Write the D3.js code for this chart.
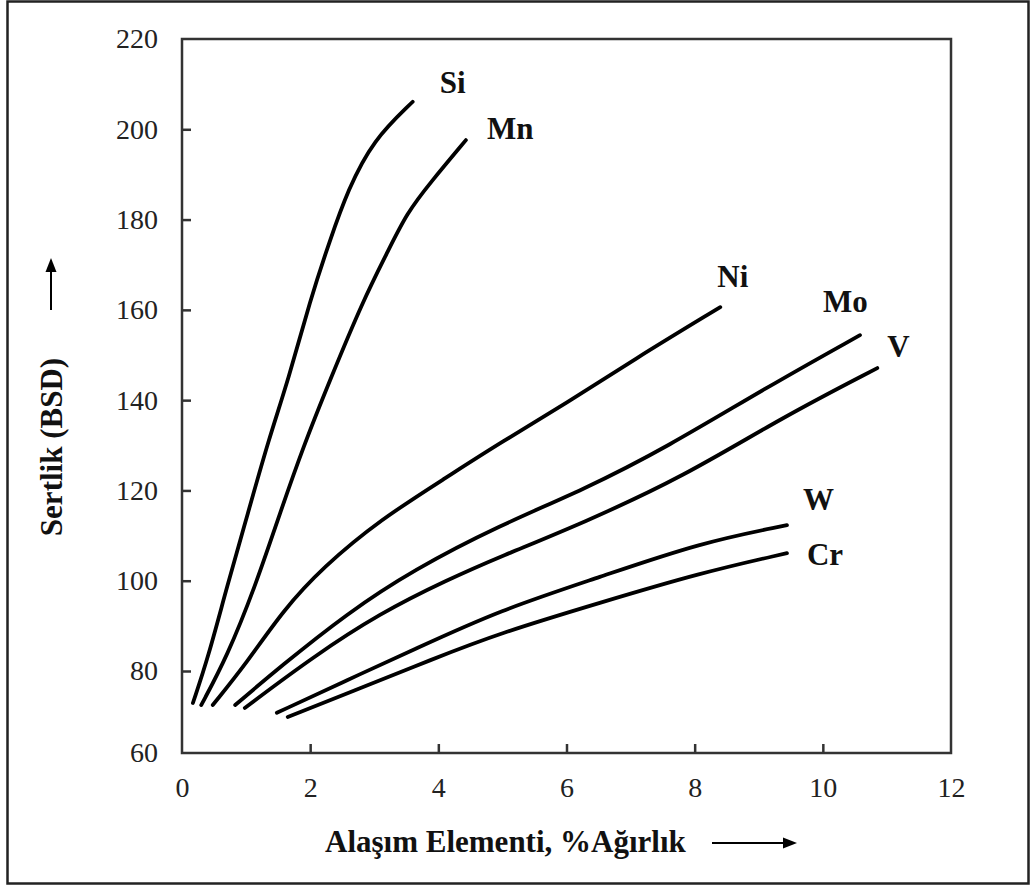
<!DOCTYPE html>
<html lang="tr">
<head>
<meta charset="UTF-8">
<title>Sertlik - Alaşım Elementi</title>
<style>
  body { margin: 0; background: #fff; }
  svg { display: block; }
  .tick text { font-family: "Liberation Serif", "DejaVu Serif", serif; font-size: 28px; fill: #222; }
  .tick line { stroke: #333; stroke-width: 2.5; }
  .lbl { font-family: "Liberation Serif", serif; font-weight: bold; font-size: 31px; fill: #111; }
  .title { font-family: "Liberation Serif", serif; font-weight: bold; font-size: 31px; fill: #111; }
</style>
</head>
<body>
<svg id="chart" width="1036" height="886"></svg>
<script src="https://d3js.org/d3.v7.min.js"></script>
<script>
// tick values
const xTicks = [0, 2, 4, 6, 8, 10, 12];
const yTicks = [60, 80, 100, 120, 140, 160, 180, 200, 220];

// curves: % alloying element vs hardness (BSD)
const siX = [0.17, 0.41, 0.70, 1.03, 1.35, 1.66, 2.00, 2.31, 2.59, 2.98, 3.60];
const siY = [72.2, 83.1, 98.6, 115.0, 131.2, 144.5, 162.2, 175.5, 186.6, 197.6, 206.1];
const mnX = [0.30, 0.70, 1.14, 1.53, 1.89, 2.31, 2.83, 3.20, 3.51, 3.87, 4.43];
const mnY = [71.7, 83.1, 98.6, 115.0, 129.6, 144.5, 162.2, 172.6, 181.5, 188.1, 197.6];
const niX = [0.48, 1.01, 1.58, 2.20, 3.09, 4.14, 4.96, 6.01, 7.04, 8.40];
const niY = [71.7, 81.8, 93.5, 103.0, 113.5, 123.0, 130.5, 139.4, 148.9, 160.6];
const moX = [0.83, 1.53, 2.58, 3.61, 4.96, 6.26, 7.57, 9.13, 10.58];
const moY = [71.7, 80.9, 92.8, 102.4, 112.3, 120.1, 129.6, 142.9, 154.4];
const vX = [0.98, 2.04, 3.09, 4.14, 4.96, 6.26, 7.82, 9.38, 10.85];
const vY = [71.0, 83.1, 92.8, 100.2, 105.3, 112.8, 123.0, 136.3, 147.1];
const wX = [1.48, 2.58, 3.61, 4.96, 6.52, 8.08, 9.44];
const wY = [69.8, 77.8, 84.7, 93.5, 100.8, 108.4, 112.3];
const crX = [1.65, 2.83, 3.87, 4.96, 6.52, 8.08, 9.44];
const crY = [68.8, 76.1, 82.4, 88.4, 95.1, 101.7, 106.1];

const names = ["Si", "Mn", "Ni", "Mo", "V", "W", "Cr"];
const xs = [siX, mnX, niX, moX, vX, wX, crX];
const ys = [siY, mnY, niY, moY, vY, wY, crY];
// label offsets from the end of each curve (px)
const labelDx = [27, 21, -3, -37, 10, 16, 20];
const labelDy = [-9, -1, -20, -23, -11, -15, 12];

const svg = d3.select("#chart");

const pLeft = 182, pRight = 951, pTop = 39, pBottom = 753;

const x = d3.scaleLinear().domain([0, 12]).range([pLeft, pRight]);
// the original axis is a bit squeezed between 60 and 80
const y = d3.scaleLinear().domain([60, 80, 220]).range([pBottom, 671, pTop]);

// outer border
svg.append("rect")
    .attr("x", 7.5).attr("y", 1.5)
    .attr("width", 1021).attr("height", 882)
    .attr("fill", "none")
    .attr("stroke", "#222")
    .attr("stroke-width", 2.5);

// axes (ticks inward)
const gx = svg.append("g")
    .attr("transform", `translate(0,${pBottom})`)
    .call(d3.axisBottom(x).tickValues(xTicks).tickSize(-9).tickPadding(24).tickFormat(d3.format("d")));
gx.select(".domain").remove();
gx.selectAll(".tick").filter(d => d === 0 || d === 12).select("line").remove();

const gy = svg.append("g")
    .attr("transform", `translate(${pLeft},0)`)
    .call(d3.axisLeft(y).tickValues(yTicks).tickSize(-9).tickPadding(24).tickFormat(d3.format("d")));
gy.select(".domain").remove();
gy.selectAll(".tick").filter(d => d === 60 || d === 220).select("line").remove();

// plot frame
svg.append("rect")
    .attr("x", pLeft).attr("y", pTop)
    .attr("width", pRight - pLeft).attr("height", pBottom - pTop)
    .attr("fill", "none")
    .attr("stroke", "#333")
    .attr("stroke-width", 2.5);

// curves
const line = d3.line()
    .x(d => x(d[0]))
    .y(d => y(d[1]))
    .curve(d3.curveBasis);

names.forEach((n, i) => {
    const pts = xs[i].map((v, j) => [v, ys[i][j]]);
    svg.append("path")
        .datum(pts)
        .attr("d", line)
        .attr("fill", "none")
        .attr("stroke", "#000")
        .attr("stroke-width", 3.8)
        .attr("stroke-linecap", "round")
        .attr("stroke-linejoin", "round");

    const last = pts[pts.length - 1];
    svg.append("text")
        .attr("class", "lbl")
        .attr("x", x(last[0]) + labelDx[i])
        .attr("y", y(last[1]) + labelDy[i])
        .text(n);
});

// axis titles with arrows
svg.append("text")
    .attr("class", "title")
    .attr("x", 325).attr("y", 852)
    .text("Alaşım Elementi, %Ağırlık");

svg.append("line")
    .attr("x1", 712).attr("y1", 843)
    .attr("x2", 784).attr("y2", 843)
    .attr("stroke", "#000").attr("stroke-width", 2);
svg.append("path")
    .attr("d", "M783,837.5 L797,843 L783,848.5 Z")
    .attr("fill", "#000");

svg.append("text")
    .attr("class", "title")
    .attr("transform", "translate(62,447) rotate(-90)")
    .attr("text-anchor", "middle")
    .text("Sertlik (BSD)");

svg.append("line")
    .attr("x1", 51).attr("y1", 310)
    .attr("x2", 51).attr("y2", 271)
    .attr("stroke", "#000").attr("stroke-width", 2);
svg.append("path")
    .attr("d", "M45.5,272 L51,258 L56.5,272 Z")
    .attr("fill", "#000");
</script>
</body>
</html>
